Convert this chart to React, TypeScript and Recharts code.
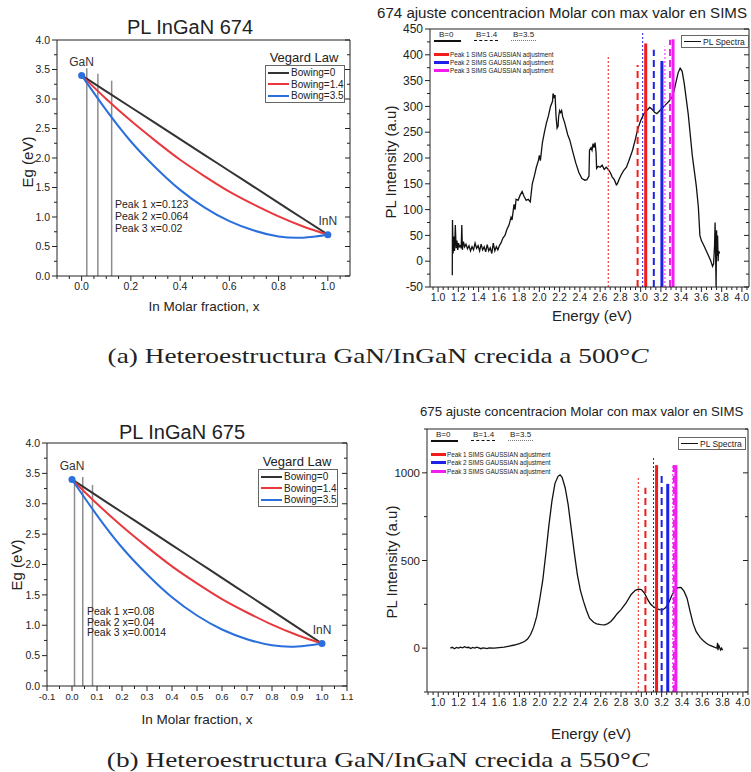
import React from 'react';
import { ComposedChart, Line, XAxis, YAxis, ReferenceLine, Scatter, LabelList } from 'recharts';

const FONT = '"Liberation Sans", Arial, sans-serif';
const SERIF = '"Liberation Serif", "DejaVu Serif", serif';

// ---- Vegard law panels (left) ----
const molarFraction = [0, 0.1, 0.2, 0.3, 0.4, 0.5, 0.6, 0.7, 0.8, 0.9, 1.0];
const egBowing0 = [3.4, 3.13, 2.86, 2.59, 2.32, 2.05, 1.78, 1.51, 1.24, 0.97, 0.7];
const egBowing14 = [3.4, 3.0, 2.63, 2.29, 1.97, 1.69, 1.43, 1.21, 1.01, 0.84, 0.7];
const egBowing35 = [3.4, 2.81, 2.28, 1.84, 1.46, 1.16, 0.93, 0.77, 0.67, 0.65, 0.7];
const bowingNames = ['Bowing=0', 'Bowing=1.4', 'Bowing=3.5'];
const bowingColors = ['#333333', '#e8383d', '#2a6fdb'];

const endpointNames = ['GaN', 'InN'];
const endpointX = [0, 1];
const endpointEg = [3.4, 0.7];

const peakText674 = ['Peak 1 x=0.123', 'Peak 2 x=0.064', 'Peak 3 x=0.02'];
const peakLineX674 = [0.122, 0.066, 0.021];
const peakLineTop674 = [3.31, 3.43, 3.52];
const peakText675 = ['Peak 1 x=0.08', 'Peak 2 x=0.04', 'Peak 3 x=0.0014'];
const peakLineX675 = [0.082, 0.043, 0.01];
const peakLineTop675 = [3.31, 3.44, 3.39];

const egTicks = [0, 0.5, 1, 1.5, 2, 2.5, 3, 3.5, 4];
const molarTicks674 = [0, 0.2, 0.4, 0.6, 0.8, 1.0];
const molarTicks675 = [-0.1, 0, 0.1, 0.2, 0.3, 0.4, 0.5, 0.6, 0.7, 0.8, 0.9, 1.0, 1.1];

// ---- PL spectra panels (right) ----
const energy674 = [
  1.14, 1.142, 1.148, 1.156, 1.162, 1.17, 1.178, 1.186, 1.194, 1.202, 1.21, 1.22, 1.228, 1.234, 1.24, 1.25,
  1.262, 1.275, 1.29, 1.305, 1.32, 1.335, 1.35, 1.365, 1.38, 1.395, 1.41, 1.425, 1.44, 1.455, 1.47, 1.485,
  1.5, 1.515, 1.53, 1.545, 1.56, 1.575, 1.59, 1.605, 1.62, 1.64, 1.66, 1.68, 1.7, 1.72, 1.73, 1.75, 1.76,
  1.77, 1.79, 1.81, 1.83, 1.85, 1.87, 1.89, 1.91, 1.93, 1.95, 1.97, 1.99, 2.0, 2.01, 2.03, 2.05, 2.07, 2.09,
  2.11, 2.13, 2.135, 2.145, 2.155, 2.165, 2.175, 2.185, 2.19, 2.2, 2.21, 2.22, 2.23, 2.25, 2.28, 2.3, 2.33,
  2.36, 2.39, 2.42, 2.45, 2.47, 2.49, 2.495, 2.51, 2.52, 2.53, 2.54, 2.55, 2.56, 2.565, 2.58, 2.6, 2.62,
  2.64, 2.66, 2.68, 2.7, 2.72, 2.74, 2.76, 2.77, 2.79, 2.81, 2.83, 2.86, 2.89, 2.92, 2.95, 2.97, 3.0, 3.03,
  3.06, 3.09, 3.11, 3.14, 3.16, 3.19, 3.22, 3.25, 3.28, 3.31, 3.33, 3.35, 3.37, 3.39, 3.41, 3.43, 3.45,
  3.47, 3.49, 3.51, 3.53, 3.55, 3.57, 3.585, 3.6, 3.63, 3.66, 3.69, 3.71, 3.72, 3.73, 3.735, 3.74, 3.745,
  3.75, 3.755, 3.76, 3.765, 3.77, 3.78,
];
const pl674 = [
  -27, 80, 15, 48, 20, 70, 25, 40, 22, 35, 28, 30, 25, 70, 22, 38,
  28, 33, 24, 30, 20, 28, 22, 35, 25, 30, 20, 33, 22, 28, 18, 32,
  20, 26, 15, 35, 20, 28, 22, 30, 35, 45, 50, 62, 70, 85, 80, 110, 100,
  120, 118, 128, 135, 125, 118, 120, 115, 150, 165, 182, 195, 205, 195, 230, 250, 268, 282,
  300, 310, 325, 318, 322, 280, 258, 262, 280, 292, 288, 292, 280, 268, 245, 235, 212,
  190, 172, 160, 157, 158, 165, 215, 220, 215, 228, 220, 230, 210, 180, 184, 182, 186,
  178, 182, 178, 172, 163, 158, 148, 150, 160, 168, 175, 182, 198, 215, 238, 255, 272, 285,
  292, 298, 295, 288, 286, 292, 298, 304, 310, 318, 330, 348, 365, 374, 368, 345, 315,
  285, 245, 205, 175, 145, 105, 50, 40, 28, 15, 2, -10, -5, 30, 75, 20, -50,
  60, 10, 50, 0, 20, 15,
];

const energy675 = [
  1.12, 1.14, 1.16, 1.18, 1.2, 1.22, 1.24, 1.26, 1.28, 1.3, 1.32, 1.34, 1.36, 1.38, 1.4, 1.42, 1.44, 1.46,
  1.48, 1.5, 1.55, 1.6, 1.65, 1.7, 1.75, 1.8, 1.85, 1.88, 1.91, 1.94, 1.97, 2.0, 2.03, 2.06, 2.09, 2.12,
  2.15, 2.18, 2.2, 2.22, 2.25, 2.28, 2.31, 2.34, 2.37, 2.4, 2.43, 2.46, 2.49, 2.53, 2.56, 2.6, 2.64, 2.67,
  2.7, 2.73, 2.76, 2.8, 2.85, 2.9, 2.94, 2.97, 3.0, 3.03, 3.06, 3.09, 3.12, 3.15, 3.18, 3.21, 3.24, 3.27,
  3.3, 3.33, 3.36, 3.39, 3.42, 3.45, 3.48, 3.51, 3.54, 3.58, 3.61, 3.64, 3.67, 3.7, 3.73, 3.745, 3.75,
  3.755, 3.76, 3.77, 3.78, 3.79, 3.8,
];
const pl675 = [
  0, 5, -3, 4, 0, 6, 2, 8, 3, 5, -2, 4, 0, 6, 2, -3, 2, 0,
  -2, 1, 0, 3, 6, 12, 18, 26, 38, 52, 78, 120, 181, 280, 390, 540, 700, 840,
  940, 980, 988, 975, 915, 817, 680, 545, 420, 330, 268, 215, 171, 148, 139, 134, 133, 140,
  152, 172, 195, 220, 258, 306, 330, 337, 334, 315, 280, 252, 236, 226, 220, 218, 232, 260,
  300, 332, 345, 346, 325, 285, 210, 140, 94, 60, 42, 28, 17, 10, 3, 0, 30,
  -12, 20, 5, -10, 0, -12,
];

const energyTicks = [1.0, 1.2, 1.4, 1.6, 1.8, 2.0, 2.2, 2.4, 2.6, 2.8, 3.0, 3.2, 3.4, 3.6, 3.8, 4.0];
const plTicks674 = [-50, 0, 50, 100, 150, 200, 250, 300, 350, 400, 450];
const plTicks675 = [0, 500, 1000];

const peakNames = ['Peak 1 SIMS GAUSSIAN adjustment', 'Peak 2 SIMS GAUSSIAN adjustment', 'Peak 3 SIMS GAUSSIAN adjustment'];
const peakColors = ['#f21c1c', '#1c22e8', '#f21cf0'];
const bowingKeys = ['B=0', 'B=1.4', 'B=3.5'];
// per peak: energy of the SIMS line for B=0, B=1.4, B=3.5
const simsE674 = [[3.05, 2.97, 2.68], [3.21, 3.13, 3.02], [3.32, 3.29, 3.24]];
const simsTop674 = [[422, 380, 400], [388, 410, 444], [430, 429, 416]];
const simsE675 = [[3.15, 3.04, 2.97], [3.26, 3.2, 3.12], [3.34, 3.32, 3.31]];
const simsTop675 = [[1044, 915, 973], [937, 983, 1087], [1044, 1045, 1046]];
const bStyles = [
  { w: 3, dash: undefined as string | undefined },
  { w: 2, dash: '7 4' },
  { w: 1, dash: '2 2' },
];

// ---- helpers ----
const zip = (xs: number[], ys: number[]) => xs.map((x, i) => ({ x, y: ys[i] }));

const steps = (lo: number, hi: number, step: number) => {
  const out: number[] = [];
  for (let v = Math.ceil(lo / step - 1e-9) * step; v <= hi + 1e-9; v += step) out.push(Math.round(v * 1e6) / 1e6);
  return out;
};

const near = (v: number, arr: number[]) => arr.some((a) => Math.abs(a - v) < 1e-6);

type Side = 'bottom' | 'left' | 'top' | 'right';

const makeTick = (side: Side, majors: number[], fmt: (v: number) => string, fs: number) => (props: any) => {
  const { x, y, payload } = props;
  const v = payload.value;
  const big = near(v, majors);
  const len = big ? 5 : 3;
  const txt = { fontSize: fs, fill: '#222', fontFamily: FONT };
  if (side === 'bottom')
    return (
      <g>
        <line x1={x} y1={y} x2={x} y2={y + len} stroke="#222" />
        {big && (
          <text x={x} y={y + 6} dy="0.8em" textAnchor="middle" {...txt}>
            {fmt(v)}
          </text>
        )}
      </g>
    );
  if (side === 'left')
    return (
      <g>
        <line x1={x} y1={y} x2={x - len} y2={y} stroke="#222" />
        {big && (
          <text x={x - 7} y={y} dy="0.35em" textAnchor="end" {...txt}>
            {fmt(v)}
          </text>
        )}
      </g>
    );
  if (side === 'top') return <line x1={x} y1={y} x2={x} y2={y + len} stroke="#222" />;
  return <line x1={x} y1={y} x2={x - len} y2={y} stroke="#222" />;
};

type Box = { left: number; top: number; width: number; height: number };
type Plot = { L: number; T: number; R: number; B: number };

type PanelProps = {
  box: Box;
  plot: Plot;
  xDomain: [number, number];
  yDomain: [number, number];
  xMajor: number[];
  yMajor: number[];
  xMinor: number;
  yMinor: number;
  xFmt: (v: number) => string;
  yFmt: (v: number) => string;
  xFs: number;
  yFs: number;
  children: React.ReactNode;
};

// axes are 1px thick, so the margins give up 1px on every side
const Panel = ({ box, plot, xDomain, yDomain, xMajor, yMajor, xMinor, yMinor, xFmt, yFmt, xFs, yFs, children }: PanelProps) => {
  const margin = {
    left: plot.L - box.left - 1,
    top: plot.T - box.top - 1,
    right: box.left + box.width - plot.R - 1,
    bottom: box.top + box.height - plot.B - 1,
  };
  const xTicks = Array.from(new Set([...steps(xDomain[0], xDomain[1], xMinor), ...xMajor])).sort((a, b) => a - b);
  const yTicks = Array.from(new Set([...steps(yDomain[0], yDomain[1], yMinor), ...yMajor])).sort((a, b) => a - b);
  const common = { allowDataOverflow: true, interval: 0 as const, tickLine: false, tickSize: 0, tickMargin: 0, axisLine: { stroke: '#222' } };
  return (
    <div style={{ position: 'absolute', left: box.left, top: box.top }}>
      <ComposedChart width={box.width} height={box.height} margin={margin}>
        <XAxis xAxisId={0} dataKey="x" type="number" domain={xDomain} ticks={xTicks} height={1} tick={makeTick('bottom', xMajor, xFmt, xFs)} {...common} />
        <XAxis xAxisId="top" orientation="top" type="number" domain={xDomain} ticks={xTicks} height={1} tick={makeTick('top', xMajor, xFmt, xFs)} {...common} />
        <YAxis yAxisId={0} type="number" domain={yDomain} ticks={yTicks} width={1} tick={makeTick('left', yMajor, yFmt, yFs)} {...common} />
        <YAxis yAxisId="right" orientation="right" type="number" domain={yDomain} ticks={yTicks} width={1} tick={makeTick('right', yMajor, yFmt, yFs)} {...common} />
        {children}
      </ComposedChart>
    </div>
  );
};

type TxtProps = { x: number; y: number; size: number; children: React.ReactNode; rotate?: boolean; start?: boolean; family?: string; sx?: number };
const Txt = ({ x, y, size, children, rotate, start, family, sx }: TxtProps) => (
  <div
    style={{
      position: 'absolute',
      left: x,
      top: y,
      transform: `translate(${start ? '0' : '-50%'}, -50%)${rotate ? ' rotate(-90deg)' : ''}${sx ? ` scaleX(${sx})` : ''}`,
      transformOrigin: start ? 'left center' : 'center',
      fontSize: size,
      lineHeight: 1,
      whiteSpace: 'nowrap',
      fontFamily: family ?? FONT,
      color: '#222',
    }}
  >
    {children}
  </div>
);

// ---- panels ----
const endpoints = endpointX.map((x, i) => ({ x, y: endpointEg[i], name: endpointNames[i] }));
const bowingSeries = [egBowing0, egBowing14, egBowing35];

type VegardProps = { box: Box; plot: Plot; xDomain: [number, number]; xMajor: number[]; xFs: number; lineX: number[]; lineTop: number[] };
const VegardPanel = ({ box, plot, xDomain, xMajor, xFs, lineX, lineTop }: VegardProps) => (
  <Panel box={box} plot={plot} xDomain={xDomain} yDomain={[0, 4]} xMajor={xMajor} yMajor={egTicks} xMinor={0.05} yMinor={0.25} xFmt={(v) => v.toFixed(1)} yFmt={(v) => v.toFixed(1)} xFs={xFs} yFs={10.5}>
    {lineX.map((x, i) => (
      <ReferenceLine key={'p' + i} segment={[{ x, y: 0 }, { x, y: lineTop[i] }]} stroke="#8c8c8c" strokeWidth={1.5} />
    ))}
    {bowingSeries.map((s, i) => (
      <Line key={bowingNames[i]} data={zip(molarFraction, s)} dataKey="y" name={bowingNames[i]} type="natural" stroke={bowingColors[i]} strokeWidth={2} dot={false} isAnimationActive={false} />
    ))}
    <Scatter data={endpoints} dataKey="y" isAnimationActive={false} shape={(p: any) => <circle cx={p.cx} cy={p.cy} r={3.5} fill="#2a6fdb" />}>
      <LabelList dataKey="name" position="top" offset={5} fill="#333" fontSize={12} fontFamily={FONT} />
    </Scatter>
  </Panel>
);

type SpectraProps = { box: Box; plot: Plot; xDomain: [number, number]; yDomain: [number, number]; yMajor: number[]; yMinor: number; yFs: number; energy: number[]; pl: number[]; simsE: number[][]; simsTop: number[][] };
const SpectraPanel = ({ box, plot, xDomain, yDomain, yMajor, yMinor, yFs, energy, pl, simsE, simsTop }: SpectraProps) => (
  <Panel box={box} plot={plot} xDomain={xDomain} yDomain={yDomain} xMajor={energyTicks} yMajor={yMajor} xMinor={0.05} yMinor={yMinor} xFmt={(v) => v.toFixed(1)} yFmt={(v) => String(v)} xFs={10.5} yFs={yFs}>
    <Line data={zip(energy, pl)} dataKey="y" name="PL Spectra" type="linear" stroke="#111" strokeWidth={1.3} dot={false} isAnimationActive={false} />
    {simsE.map((row, p) =>
      row.map((e, b) => (
        <ReferenceLine key={`s${p}-${b}`} segment={[{ x: e, y: yDomain[0] }, { x: e, y: simsTop[p][b] }]} stroke={peakColors[p]} strokeWidth={bStyles[b].w} strokeDasharray={bStyles[b].dash} />
      )),
    )}
  </Panel>
);

const VegardLegend = ({ x, y }: { x: number; y: number }) => (
  <>
    <Txt x={x + 39} y={y - 8} size={13}>Vegard Law</Txt>
    <div style={{ position: 'absolute', left: x, top: y, width: 78, height: 36, border: '1px solid #666', background: '#fff' }}>
      {bowingNames.map((n, i) => (
        <div key={n} style={{ position: 'absolute', left: 2, top: 1 + i * 11.5, display: 'flex', alignItems: 'center', height: 11 }}>
          <div style={{ width: 21, height: 2, background: bowingColors[i] }} />
          <span style={{ fontFamily: FONT, fontSize: 10, color: '#222', marginLeft: 2 }}>{n}</span>
        </div>
      ))}
    </div>
  </>
);

const PeakLegend = ({ x, y, row }: { x: number; y: number; row: number }) => (
  <>
    {bowingKeys.map((k, i) => (
      <div key={k} style={{ position: 'absolute', left: x + [5, 42, 79][i], top: y - 5, fontFamily: FONT, fontSize: 8, color: '#222', lineHeight: 1 }}>
        {k}
        <div
          style={{
            position: 'absolute',
            left: [-5, -2, -2][i],
            top: 9,
            width: [27, 24, 25][i],
            borderTop: [`2px solid #111`, `1.5px dashed #111`, `1px dotted #777`][i],
          }}
        />
      </div>
    ))}
    {peakNames.map((n, i) => (
      <div key={n} style={{ position: 'absolute', left: x, top: y + 14 + i * row, display: 'flex', alignItems: 'center', height: 8 }}>
        <div style={{ width: 15, height: 3, background: peakColors[i] }} />
        <span style={{ fontFamily: FONT, fontSize: 6.3, color: '#222', marginLeft: 1 }}>{n}</span>
      </div>
    ))}
  </>
);

const SpectraLegend = ({ x, y }: { x: number; y: number }) => (
  <div style={{ position: 'absolute', left: x, top: y, width: 66, height: 11, border: '1px solid #666', background: '#fff', display: 'flex', alignItems: 'center' }}>
    <div style={{ width: 17, height: 1.3, background: '#111', marginLeft: 2 }} />
    <span style={{ fontFamily: FONT, fontSize: 8.5, color: '#222', marginLeft: 2 }}>PL Spectra</span>
  </div>
);

const PeakText = ({ x, y, lines, gap }: { x: number; y: number; lines: string[]; gap: number }) => (
  <>
    {lines.map((l, i) => (
      <Txt key={l} x={x} y={y + i * gap} size={10.5} start>
        {l}
      </Txt>
    ))}
  </>
);

export default function App() {
  return (
    <div style={{ position: 'relative', width: 751, height: 772, background: '#fff', overflow: 'hidden', fontFamily: FONT }}>
      <style>{'body{margin:0}'}</style>

      {/* (a) top-left */}
      <VegardPanel box={{ left: 0, top: 0, width: 370, height: 330 }} plot={{ L: 57, T: 40, R: 350, B: 276 }} xDomain={[-0.1, 1.09]} xMajor={molarTicks674} xFs={10.5} lineX={peakLineX674} lineTop={peakLineTop674} />
      <Txt x={190} y={27} size={20}>PL InGaN 674</Txt>
      <Txt x={27} y={162} size={15} rotate>Eg (eV)</Txt>
      <Txt x={204} y={307} size={13.5}>In Molar fraction, x</Txt>
      <VegardLegend x={265} y={65} />
      <PeakText x={115} y={204} lines={peakText674} gap={12} />

      {/* (a) top-right */}
      <SpectraPanel box={{ left: 370, top: 0, width: 381, height: 330 }} plot={{ L: 430, T: 29, R: 749, B: 287 }} xDomain={[0.92, 4.07]} yDomain={[-50, 450]} yMajor={plTicks674} yMinor={25} yFs={12} energy={energy674} pl={pl674} simsE={simsE674} simsTop={simsTop674} />
      <Txt x={377} y={13} size={15.1} start>674 ajuste concentracion Molar con max valor en SIMS</Txt>
      <Txt x={390} y={162} size={15} rotate>PL Intensity (a.u)</Txt>
      <Txt x={592} y={315} size={15}>Energy (eV)</Txt>
      <PeakLegend x={434} y={36} row={8} />
      <SpectraLegend x={681} y={35} />

      <Txt x={378} y={356} size={21} family={SERIF} sx={1.3}>
        (a) Heteroestructura GaN/InGaN crecida a 500°<i>C</i>
      </Txt>

      {/* (b) bottom-left */}
      <VegardPanel box={{ left: 0, top: 380, width: 370, height: 345 }} plot={{ L: 47, T: 443, R: 347, B: 686 }} xDomain={[-0.1, 1.1]} xMajor={molarTicks675} xFs={9.5} lineX={peakLineX675} lineTop={peakLineTop675} />
      <Txt x={182} y={432} size={20}>PL InGaN 675</Txt>
      <Txt x={16} y={565} size={15} rotate>Eg (eV)</Txt>
      <Txt x={197} y={720} size={13.5}>In Molar fraction, x</Txt>
      <VegardLegend x={258} y={469} />
      <PeakText x={87} y={611} lines={peakText675} gap={10.5} />

      {/* (b) bottom-right */}
      <SpectraPanel box={{ left: 370, top: 380, width: 381, height: 345 }} plot={{ L: 427, T: 429, R: 748, B: 692 }} xDomain={[0.89, 4.05]} yDomain={[-250, 1250]} yMajor={plTicks675} yMinor={250} yFs={11.5} energy={energy675} pl={pl675} simsE={simsE675} simsTop={simsTop675} />
      <Txt x={420} y={412} size={13.2} start>675 ajuste concentracion Molar con max valor en SIMS</Txt>
      <Txt x={391} y={562} size={15} rotate>PL Intensity (a.u)</Txt>
      <Txt x={591} y={733} size={15}>Energy (eV)</Txt>
      <PeakLegend x={431} y={436} row={8.5} />
      <SpectraLegend x={678} y={437} />

      <Txt x={378} y={760} size={21} family={SERIF} sx={1.3}>
        (b) Heteroestructura GaN/InGaN crecida a 550°<i>C</i>
      </Txt>
    </div>
  );
}
